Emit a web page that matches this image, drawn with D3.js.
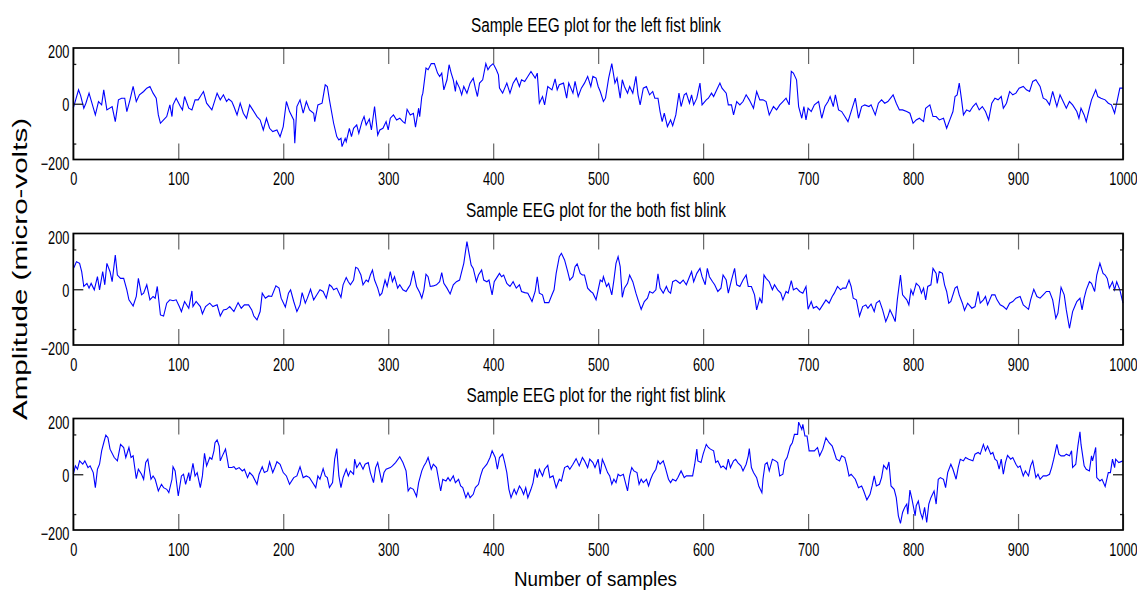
<!DOCTYPE html>
<html>
<head>
<meta charset="utf-8">
<script src="https://cdn.jsdelivr.net/npm/d3@7"></script>
<style>
body { margin: 0; background: #fff; }
svg text { font-family: "Liberation Sans", Arial, sans-serif; fill: #000; }
</style>
</head>
<body>
<svg id="chart" width="1137" height="593"></svg>
<script>
// panel titles
var titles = ["Sample EEG plot for the left fist blink",
              "Sample EEG plot for the both fist blink",
              "Sample EEG plot for the right fist blink"];

// [sample, micro-volts]
var leftBlink = [[0,-16],[5,50],[7,29],[10,-16],[12,2],[15,38],[21,-40],[24,8],[27,-4],[29,50],[32,-22],[37,-10],[40,-64],[43,14],[46,20],[49,20],[51,-28],[54,14],[57,62],[60,8],[63,32],[67,44],[70,56],[73,62],[76,38],[79,20],[81,-40],[83,-70],[86,-58],[89,-46],[92,-4],[94,-46],[95,-4],[98,20],[102,-10],[104,-22],[106,26],[110,-16],[113,-22],[116,14],[119,14],[121,26],[124,44],[127,2],[132,-22],[137,38],[140,14],[143,32],[146,8],[148,17],[151,8],[153,-10],[156,-40],[159,2],[162,-34],[165,-52],[168,-4],[171,-22],[175,-46],[178,-58],[181,-94],[184,-52],[187,-88],[190,-100],[194,-94],[197,-118],[200,-82],[203,8],[206,-28],[210,-58],[211,-142],[213,-10],[216,14],[219,-34],[222,8],[225,-22],[229,-34],[230,-64],[233,-4],[237,2],
  [240,68],[242,62],[244,14],[248,-70],[251,-118],[253,-130],[255,-124],[256,-154],[259,-124],[260,-136],[263,-88],[265,-118],[267,-88],[270,-76],[272,-106],[275,-64],[277,-46],[279,-76],[282,-55],[284,-94],[287,-10],[290,-112],[292,-94],[295,-88],[298,-64],[300,-94],[302,-52],[305,-40],[308,-58],[311,-52],[314,-64],[316,-70],[318,-20],[321,-40],[324,-34],[326,-84],[329,-16],[330,-46],[332,26],[333,38],[336,128],[338,122],[341,144],[344,144],[347,110],[349,98],[351,110],[353,50],[356,86],[358,140],[360,110],[362,86],[364,44],[365,80],[368,56],[370,32],[372,62],[375,38],[378,74],[381,92],[383,56],[385,26],[387,74],[390,86],[393,144],[395,122],[397,134],[400,144],[403,122],[405,104],[406,56],[409,38],[413,74],[416,38],[419,74],[422,92],[425,62],[427,86],[430,80],[433,98],[436,116],[440,92],[442,110],[444,2],[447,26],[449,-4],[452,62],[456,50],[459,89],[461,50],[463,68],[467,74],[470,20],[472,74],[476,38],[478,80],[481,26],[484,56],[487,74],[490,98],[493,62],[495,98],
  [498,92],[500,62],[502,44],[505,8],[507,20],[510,92],[513,144],[516,74],[518,92],[521,20],[523,86],[525,62],[528,38],[530,62],[533,38],[536,98],[538,32],[540,-4],[543,56],[546,62],[549,32],[552,44],[554,20],[557,20],[559,-28],[561,-64],[563,-34],[566,-82],[569,-58],[571,-79],[574,-40],[577,38],[579,-10],[582,32],[584,38],[587,2],[589,32],[591,-4],[594,20],[597,74],[599,-4],[603,14],[605,20],[608,38],[610,26],[613,50],[616,74],[618,56],[622,38],[624,-4],[627,-4],[629,-40],[632,8],[635,-4],[638,8],[641,32],[644,14],[648,-16],[651,44],[654,14],[657,14],[660,8],[663,-40],[667,-10],[670,-22],[673,-4],[676,8],[679,20],[682,-4],[684,116],[686,110],[689,86],[691,-10],[694,-52],[696,-10],[698,-58],[700,-16],[703,-28],[706,-4],[710,8],[713,-52],[716,-10],[719,8],[721,26],[724,-10],[726,32],[729,-22],[732,-28],[735,-46],[738,-64],[741,-28],[745,20],[748,-52],[751,-10],[754,-4],
  [758,-10],[760,-4],[764,-40],[767,2],[770,14],[773,2],[776,8],[781,32],[784,2],[787,-22],[790,-22],[794,-28],[797,-34],[800,-70],[803,-58],[806,-52],[810,-64],[812,-16],[816,-4],[819,-46],[822,-46],[825,-58],[829,-52],[832,-88],[835,-58],[838,-28],[840,26],[842,32],[844,74],[846,20],[848,-40],[851,-22],[854,-28],[857,-10],[860,2],[863,-22],[866,-10],[869,-28],[872,-58],[875,2],[878,20],[881,14],[884,26],[886,-16],[889,2],[892,44],[895,32],[898,38],[901,56],[905,62],[908,50],[911,44],[914,80],[917,86],[921,62],[924,20],[927,14],[930,-4],[933,44],[937,-10],[940,32],[943,8],[946,-16],[949,8],[952,-4],[956,-28],[958,-52],[960,-16],[963,-40],[965,-64],[968,-16],[970,14],[974,50],[976,26],[979,20],[983,14],[986,2],[989,-4],[992,-34],[994,2],[997,56],[1000,56]];

var bothBlink = [[0,75],[1,81],[3,99],[6,93],[8,63],[10,10],[13,21],[15,4],[17,21],[20,-2],[23,45],[25,-2],[28,63],[30,16],[32,93],[35,63],[37,27],[40,123],[42,51],[45,39],[48,39],[51,-2],[53,-38],[57,-60],[60,-26],[62,39],[65,-20],[67,-14],[70,16],[73,-38],[76,-26],[78,-32],[80,10],[83,-92],[86,-96],[89,-50],[92,-38],[95,-41],[98,-38],[101,-62],[103,-80],[106,-44],[110,-68],[113,-6],[114,-62],[117,-44],[121,-62],[123,-88],[126,-62],[130,-50],[133,-62],[137,-56],[140,-96],[143,-74],[146,-72],[149,-62],[153,-80],[157,-48],[160,-68],[163,-56],[167,-56],[170,-74],[172,-96],[175,-110],[178,-80],[180,-14],[183,-32],[186,-24],[189,-26],[193,12],[196,4],[198,-32],[202,-64],[205,-14],[207,-2],[210,-44],[213,-80],[216,-56],[218,-12],[221,-50],[223,-32],[226,0],[229,-38],[232,-20],[235,-2],
  [238,-8],[241,-32],[244,16],[246,10],[248,-2],[251,4],[255,-29],[257,16],[260,42],[262,27],[264,16],[267,33],[269,79],[271,75],[274,51],[276,16],[279,33],[281,27],[283,51],[285,69],[287,33],[290,4],[292,-23],[294,-14],[297,33],[299,10],[302,63],[304,27],[306,45],[309,4],[311,16],[314,-2],[317,-8],[319,4],[321,16],[324,66],[327,10],[330,-12],[332,-32],[334,-2],[336,54],[338,45],[340,10],[343,12],[346,16],[349,27],[351,60],[353,21],[356,4],[359,-17],[362,16],[365,27],[368,33],[370,63],[372,93],[375,171],[377,129],[379,87],[381,75],[384,27],[386,51],[389,69],[391,33],[394,27],[396,33],[399,-20],[401,27],[403,39],[406,57],[408,45],[410,51],[413,21],[416,10],[419,27],[422,4],[425,16],[427,-8],[430,-12],[433,-14],[437,-44],[440,-8],[442,45],[444,-14],[447,-20],[449,-48],[453,-48],[456,-20],[458,-2],[460,57],[463,117],[465,129],[468,105],[471,63],[473,33],[476,45],[478,81],[480,91],[483,57],[485,51],[487,51],[490,4],[493,-8],[495,-14],[498,-38],
  [502,33],[504,27],[505,45],[508,10],[510,21],[513,-20],[515,33],[517,93],[519,117],[521,81],[523,-29],[525,4],[528,21],[530,51],[533,27],[536,-14],[538,-38],[541,-72],[544,-44],[547,-32],[549,-8],[552,-14],[555,-2],[557,55],[559,4],[562,-14],[565,10],[567,-8],[569,-14],[571,27],[574,33],[576,27],[578,21],[581,33],[584,16],[587,45],[589,63],[591,27],[594,57],[597,75],[599,45],[602,16],[604,75],[606,45],[609,27],[611,16],[614,-8],[617,4],[619,51],[622,33],[624,-14],[627,33],[630,75],[632,16],[635,10],[638,33],[641,51],[643,10],[646,10],[649,-20],[651,-74],[654,-32],[656,-50],[658,51],[660,39],[663,27],[666,-2],[668,16],[671,-2],[674,-14],[676,-38],[679,-8],[681,-14],[684,31],[686,-2],[689,4],[692,-8],[695,-14],[698,10],[700,-72],[703,-44],[705,-68],[708,-62],[711,-74],[714,-56],[717,-38],[720,-50],[723,-26],[725,-14],[728,10],[731,-2],[733,4],[736,4],[739,33],[741,10],[743,-32],[746,-38],[749,-96],[752,-62],[755,-56],
  [757,-68],[760,-53],[763,-80],[765,-50],[768,-41],[771,-74],[774,-116],[776,-98],[778,-74],[781,-98],[783,-116],[785,-38],[788,51],[790,-20],[794,-38],[796,-56],[798,-2],[800,-20],[803,21],[806,10],[808,-14],[810,4],[812,-38],[814,10],[817,16],[819,75],[822,57],[823,21],[825,63],[828,57],[830,16],[832,-8],[834,-50],[836,-44],[840,4],[842,10],[844,-20],[847,-50],[849,-76],[852,-50],[856,-68],[859,-62],[862,-8],[864,-50],[867,-38],[869,-26],[871,-56],[875,-20],[878,-20],[880,-38],[883,-56],[886,-62],[889,-72],[892,-50],[895,-44],[898,-32],[902,-26],[905,-56],[910,-72],[912,-38],[915,0],[918,-26],[921,-32],[924,-20],[927,-8],[930,-8],[933,-38],[936,-104],[938,-86],[941,7],[944,-20],[946,-74],[949,-140],[952,-80],[954,-62],[956,-44],[959,-32],[961,-74],[963,-32],[965,-2],[968,27],[970,21],[973,-8],[975,51],[978,93],[981,57],[983,51],[985,39],[987,4],[990,27],[992,-2],[994,27],[997,-2],[1000,-50]];

var rightBlink = [[0,0],[2,30],[4,18],[6,48],[9,36],[11,48],[14,24],[16,30],[19,6],[21,-48],[23,18],[25,36],[27,84],[29,113],[31,140],[33,131],[35,90],[39,60],[42,48],[45,107],[48,96],[50,60],[53,96],[55,60],[57,66],[60,-16],[62,18],[65,0],[67,-18],[69,42],[71,54],[74,-18],[76,-6],[78,-18],[81,-60],[84,-36],[86,-48],[89,-54],[91,-66],[94,-18],[95,27],[97,12],[100,-78],[103,-6],[105,0],[107,-36],[110,6],[111,-24],[114,39],[116,-6],[118,6],[121,-48],[123,-6],[125,75],[127,30],[130,60],[132,54],[134,84],[135,113],[137,123],[139,101],[140,48],[142,66],[145,90],[147,48],[148,24],[151,24],[153,27],[155,18],[158,24],[161,12],[163,18],[166,-12],[168,6],[171,-6],[175,-36],[177,0],[180,27],[182,6],[185,12],[187,44],[190,6],[192,24],[194,45],[197,36],[200,6],[203,-6],[206,-36],[210,-12],[213,-6],[216,27],[219,-12],[222,-6],[225,-12],[227,-24],[231,-48],[233,-6],[235,-18],[238,20],
  [240,-6],[242,-12],[244,-48],[247,-30],[249,54],[251,92],[253,-6],[255,-48],[257,-12],[260,18],[262,-6],[264,12],[267,0],[268,54],[270,24],[273,42],[276,18],[278,36],[281,42],[283,6],[286,-30],[288,24],[290,42],[294,-30],[296,6],[298,18],[302,24],[304,30],[307,42],[311,63],[314,42],[317,12],[319,-60],[321,-48],[324,-54],[327,-80],[329,-30],[332,12],[334,30],[336,42],[338,60],[341,18],[343,36],[346,24],[348,-18],[350,-60],[352,-18],[355,-24],[357,-12],[359,-24],[362,-6],[364,-30],[367,-18],[369,-42],[371,-48],[374,-84],[376,-66],[378,-84],[381,-72],[383,-48],[386,-36],[388,-6],[390,18],[394,36],[397,60],[399,84],[402,60],[404,18],[406,60],[409,72],[411,42],[413,6],[415,-54],[417,-84],[420,-54],[422,-72],[425,-42],[427,-54],[429,-72],[431,-48],[433,-84],[436,-54],[438,-30],[440,18],[442,-12],[444,18],[447,-6],[449,18],[452,32],[454,-12],[457,-6],[460,-48],[463,-18],[465,-24],[468,24],[471,30],[473,18],[476,36],[479,56],[482,30],[485,60],[487,48],[490,24],[492,54],[495,42],[497,24],[500,54],
  [502,0],[504,54],[506,36],[509,6],[511,-6],[513,-36],[515,-18],[517,-30],[519,0],[521,-6],[524,0],[526,-30],[528,-60],[530,-6],[532,24],[534,12],[537,6],[539,-36],[541,-18],[543,-30],[546,-18],[548,-42],[550,-18],[552,0],[555,18],[557,48],[559,36],[562,48],[564,24],[567,-18],[569,-30],[571,-18],[574,-24],[576,-12],[579,12],[582,-12],[584,-6],[587,-6],[590,-6],[592,36],[594,90],[595,48],[598,42],[600,72],[603,107],[605,96],[607,90],[610,84],[612,42],[614,48],[617,24],[619,30],[622,18],[624,54],[626,24],[629,48],[631,54],[633,42],[636,30],[638,12],[641,36],[643,66],[644,92],[646,24],[648,6],[651,-12],[653,-42],[656,-66],[657,-18],[659,36],[661,42],[663,12],[666,54],[669,48],[671,42],[673,-6],[676,0],[678,48],[680,60],[683,101],[685,113],[687,143],[690,143],[691,187],[694,161],[695,179],[697,137],[699,137],[701,84],[703,84],[706,84],[709,96],[711,66],[714,90],[717,131],[720,113],[723,101],[725,78],[727,54],[730,48],[732,66],[735,60],[737,30],[739,-6],[741,0],[745,-18],[748,-48],[751,-42],[753,-60],[756,-92],
  [759,-72],[761,-42],[763,-6],[765,-42],[768,-36],[770,-12],[772,32],[775,18],[777,44],[779,-42],[782,-54],[784,-84],[786,-149],[788,-176],[790,-137],[792,-119],[794,-107],[795,-143],[797,-57],[799,-90],[802,-149],[803,-113],[805,-96],[807,-137],[809,-159],[811,-119],[813,-173],[815,-107],[817,-84],[820,-60],[822,-107],[824,-18],[826,-12],[829,-18],[831,-48],[833,6],[836,36],[838,18],[841,-18],[843,24],[845,54],[848,48],[850,60],[853,54],[857,48],[859,72],[862,78],[864,72],[867,107],[869,84],[871,101],[874,72],[876,78],[878,54],[880,48],[882,18],[884,54],[886,0],[888,42],[890,68],[893,54],[895,60],[898,36],[900,24],[902,30],[905,-6],[907,12],[910,-6],[912,30],[914,48],[917,-12],[919,0],[921,-18],[924,-6],[927,-6],[930,0],[932,24],[934,54],[937,107],[939,72],[941,66],[944,66],[946,72],[949,66],[951,84],[952,24],[955,36],[957,101],[959,152],[960,107],[963,30],[965,18],[968,12],[970,66],[971,48],[974,96],[975,-12],[978,-24],[980,-18],[983,-44],[986,6],[988,6],[990,54],[992,24],[993,54],[996,42],[1000,48]];

var xTicks = [0, 100, 200, 300, 400, 500, 600, 700, 800, 900, 1000];
var yTicks = [-200, 0, 200];

var svg = d3.select("#chart");
var left = 73.3, right = 1123, plotH = 111.5;
var tops = [48, 233.5, 418.5];
var titleLen = [250, 260, 259];

var x = d3.scaleLinear().domain([0, 1000]).range([left, right]);
var y = d3.scaleLinear().domain([-200, 200]).range([plotH, 0]);
// tick marks sit inside the box like a matlab axis with a wider limit
var yMark = d3.scaleLinear().domain([-280, 280]).range([plotH, 0]);

var line = d3.line().x(d => x(d[0])).y(d => y(d[1]));

function squeeze(sel) {
  sel.attr("transform", "scale(0.71,1)");
}

[leftBlink, bothBlink, rightBlink].forEach(function (series, i) {
  var g = svg.append("g").attr("transform", "translate(0," + tops[i] + ")");

  g.append("text")
    .attr("x", 596 - titleLen[i] / 2).attr("y", -16.5)
    .attr("font-size", 20.5)
    .attr("textLength", titleLen[i]).attr("lengthAdjust", "spacingAndGlyphs")
    .text(titles[i]);

  g.append("path").datum(series)
    .attr("d", line)
    .attr("fill", "none")
    .attr("stroke", "#0000ff")
    .attr("stroke-width", 1.1);

  // bottom ticks with labels
  var bx = g.append("g").attr("transform", "translate(0," + plotH + ")")
    .call(d3.axisBottom(x).tickValues(xTicks).tickFormat(d3.format("d"))
      .tickSizeInner(-16).tickSizeOuter(0).tickPadding(13));
  // top ticks
  var tx = g.append("g")
    .call(d3.axisTop(x).tickValues(xTicks).tickSizeInner(-16).tickSizeOuter(0).tickFormat(""));
  [bx, tx].forEach(function (a) {
    a.select(".domain").remove();
    a.selectAll("line").attr("stroke", "#666").attr("stroke-width", 1.2);
  });
  bx.selectAll("text").attr("font-size", 18).attr("font-family", null).call(squeeze);

  // left labels
  var ly = g.append("g").attr("transform", "translate(" + left + ",0)")
    .call(d3.axisLeft(y).tickValues(yTicks).tickFormat(d3.format("d")).tickSize(0).tickPadding(5.5));
  ly.select(".domain").remove();
  ly.selectAll("text").attr("font-size", 18).attr("font-family", null)
    .attr("dy", d => d === 0 ? "0.38em" : "0.55em").call(squeeze);

  // left and right tick marks
  var lm = g.append("g").attr("transform", "translate(" + left + ",0)")
    .call(d3.axisLeft(yMark).tickValues(yTicks).tickSizeOuter(0).tickFormat(""));
  var rm = g.append("g").attr("transform", "translate(" + right + ",0)")
    .call(d3.axisRight(yMark).tickValues(yTicks).tickSizeOuter(0).tickFormat(""));
  lm.selectAll("line").attr("x2", d => d === 0 ? 10 : 3);
  rm.selectAll("line").attr("x2", d => d === 0 ? -10 : -3);
  [lm, rm].forEach(function (a) {
    a.select(".domain").remove();
    a.selectAll("line").attr("stroke", "#222").attr("stroke-width", 1.3);
  });

  g.append("rect")
    .attr("x", left).attr("y", 0)
    .attr("width", right - left).attr("height", plotH)
    .attr("fill", "none").attr("stroke", "#000").attr("stroke-width", 1.7);
});

svg.append("text")
  .attr("transform", "translate(27,269) rotate(-90)")
  .attr("x", -151).attr("y", 0)
  .attr("font-size", 19.5)
  .attr("textLength", 302).attr("lengthAdjust", "spacingAndGlyphs")
  .text("Amplitude (micro-volts)");

svg.append("text")
  .attr("x", 514).attr("y", 586)
  .attr("font-size", 21)
  .attr("textLength", 163).attr("lengthAdjust", "spacingAndGlyphs")
  .text("Number of samples");
</script>
</body>
</html>
